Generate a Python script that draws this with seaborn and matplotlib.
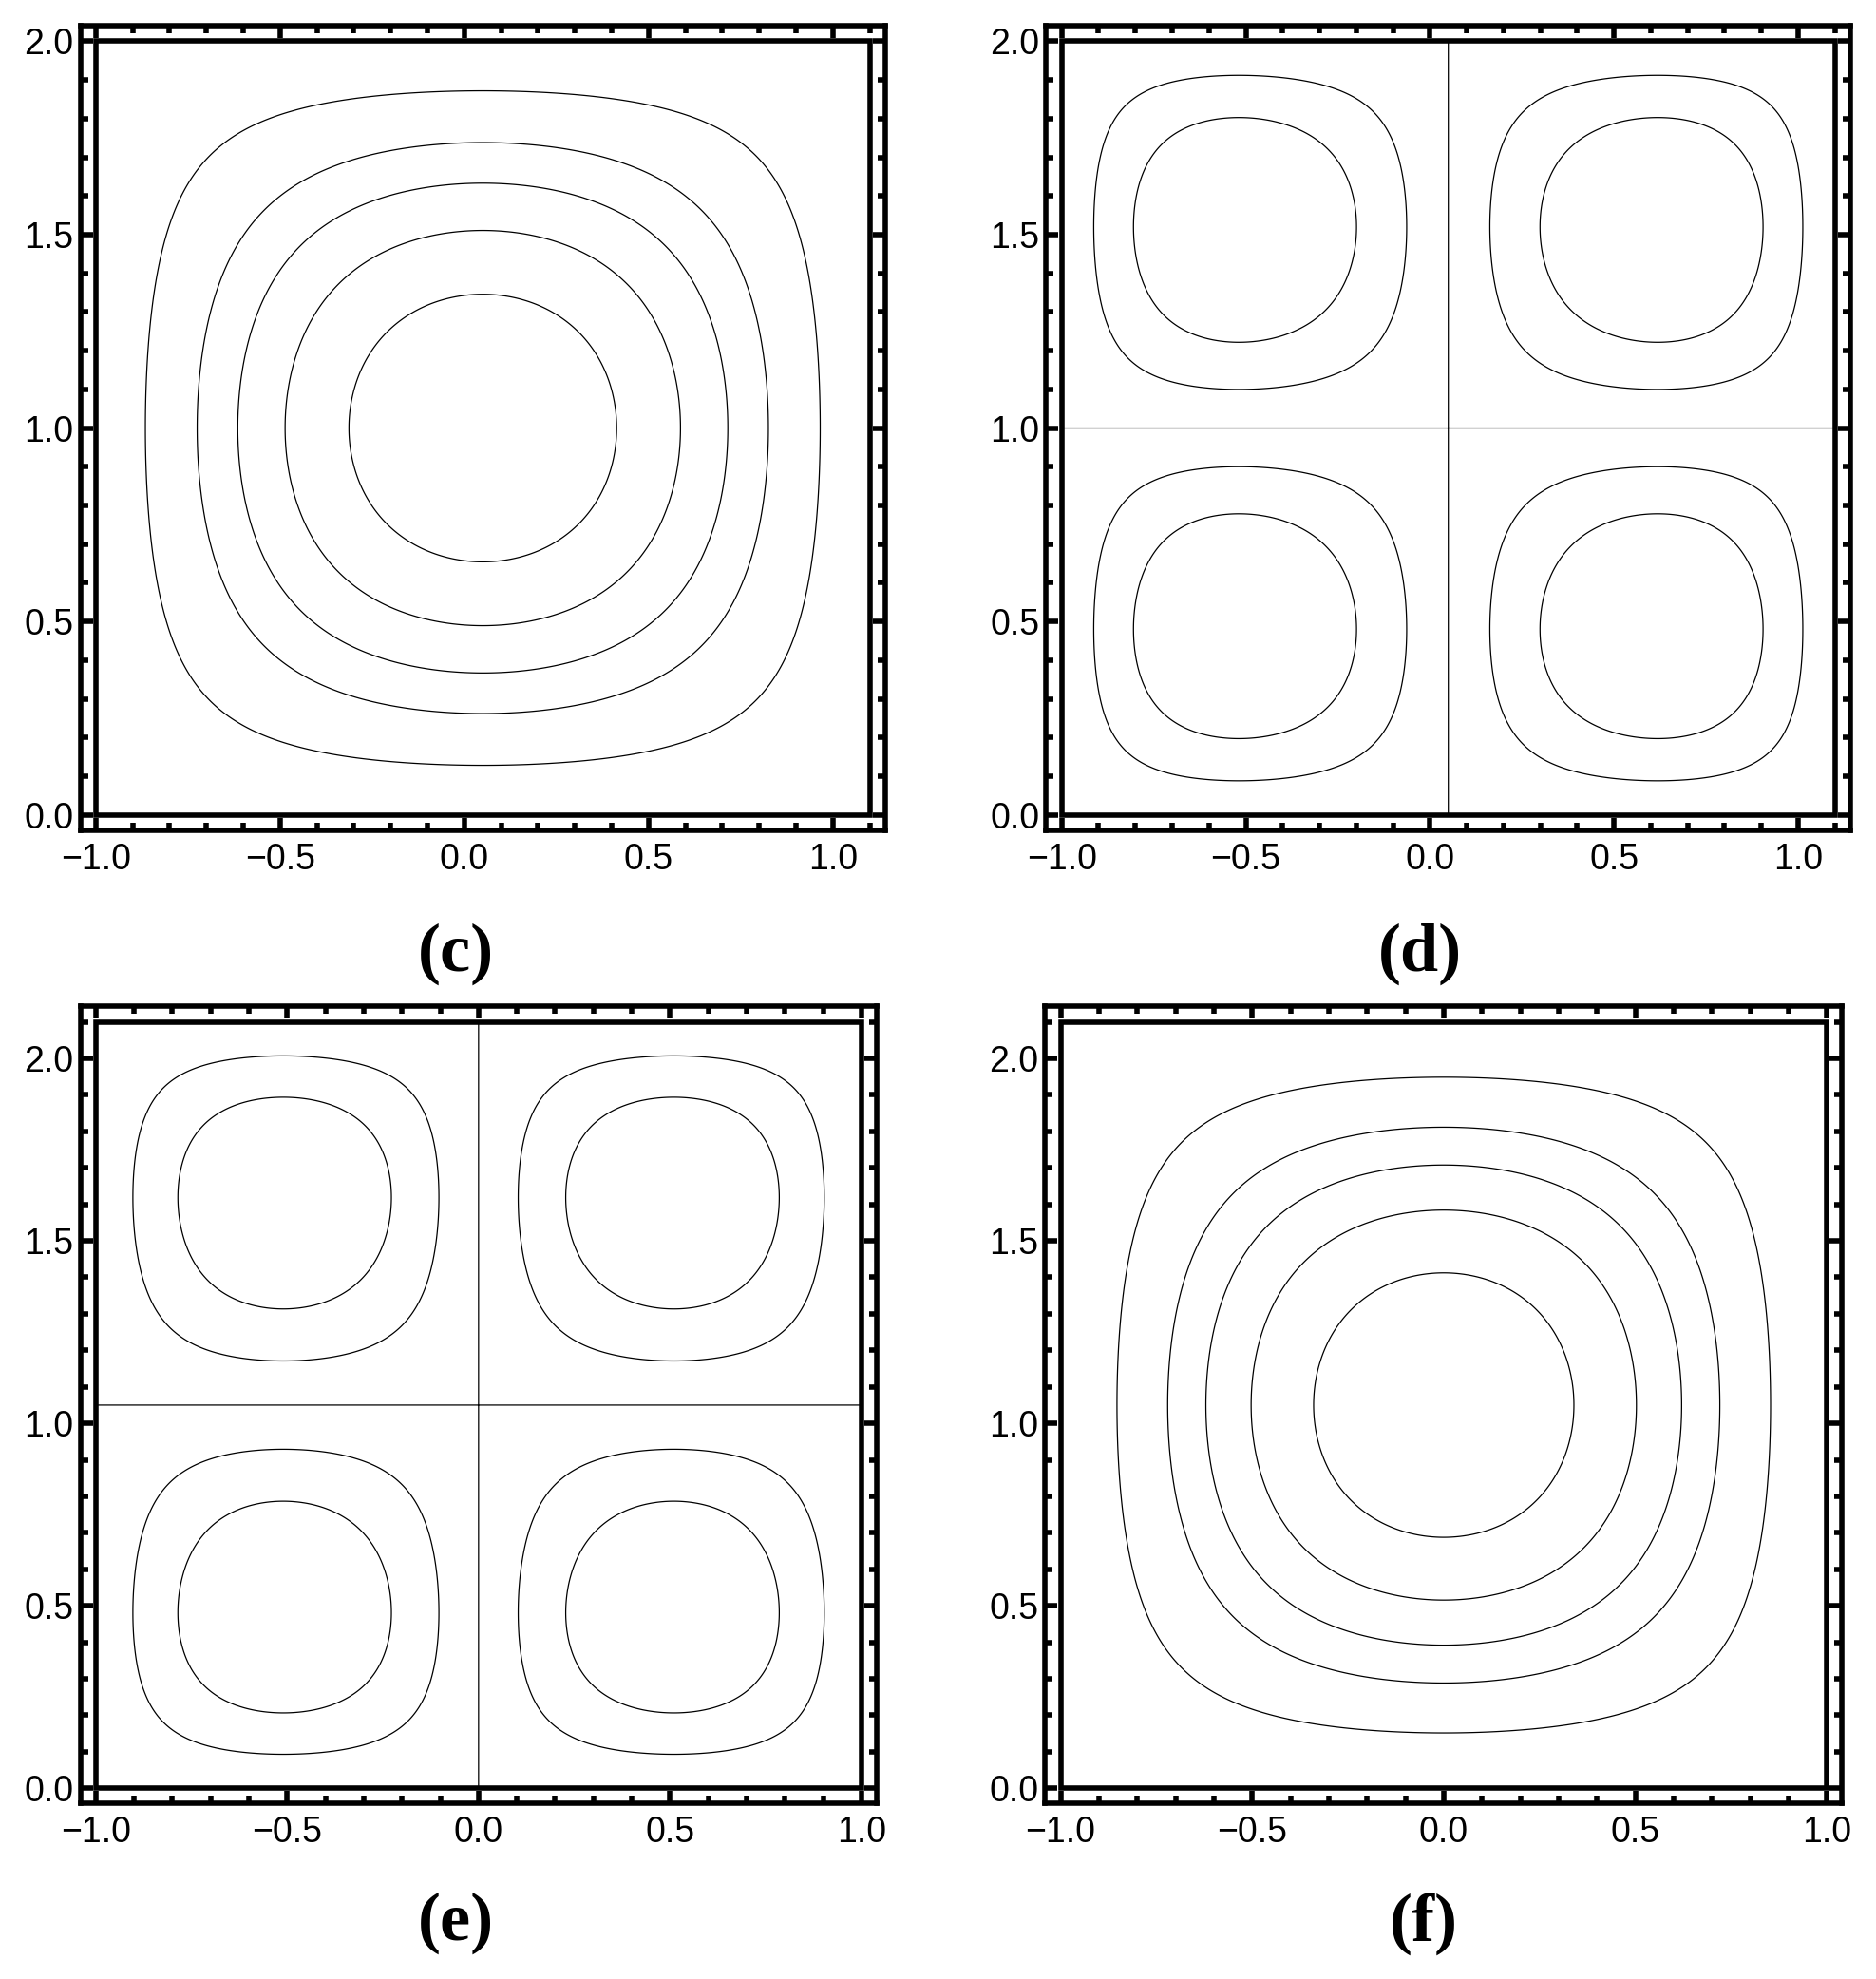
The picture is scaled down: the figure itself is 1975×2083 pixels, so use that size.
import numpy as np
import matplotlib
matplotlib.use("Agg")
import matplotlib.pyplot as plt
import seaborn as sns
from matplotlib.ticker import MultipleLocator, FuncFormatter
from matplotlib.patches import Rectangle

# ---------------------------
# Data
# ---------------------------

panel_names = ["(c)", "(d)", "(e)", "(f)"]

# domain of each panel  [x0, x1], [y0, y1]
x_ranges = [[-1.0, 1.1], [-1.0, 1.1], [-1.0, 1.0], [-1.0, 1.0]]
y_ranges = [[0.0, 2.0], [0.0, 2.0], [0.0, 2.1], [0.0, 2.1]]

# number of cells along x / y
modes = [1, 2, 2, 1]

# outward drift of the vortex cores (fraction of domain)
shift_x = [0.0, 0.021, 0.005, 0.0]
shift_y = [0.0, 0.010, 0.021, 0.003]

# contour levels (normalised stream function)
levels_c = [0.20, 0.40, 0.545, 0.695, 0.856]
levels_d = [-0.61, -0.29, 0.0, 0.29, 0.61]
levels_e = [-0.64, -0.31, 0.0, 0.31, 0.64]
levels_f = [0.229, 0.425, 0.561, 0.704, 0.861]
all_levels = [levels_c, levels_d, levels_e, levels_f]

x_ticks = [-1.0, -0.5, 0.0, 0.5, 1.0]
y_ticks = [0.0, 0.5, 1.0, 1.5, 2.0]

# ---------------------------
# Layout
# ---------------------------

sns.set_theme(style="white")
plt.rcParams['font.family'] = ['Liberation Sans', 'DejaVu Sans']

fig = plt.figure(figsize=(19.75, 20.83), dpi=100)

positions = [
    [0.0428, 0.5804, 0.4291, 0.4066],
    [0.5577, 0.5804, 0.4286, 0.4066],
    [0.0428, 0.0886, 0.4246, 0.4028],
    [0.5572, 0.0886, 0.4248, 0.4028],
]
label_xy = [(0.243, 0.518), (0.757, 0.518), (0.243, 0.028), (0.759, 0.028)]

fmt = FuncFormatter(lambda v, p: f"{v:.1f}".replace("-", "\u2212"))

N = 600

for i in range(4):
    ax = fig.add_axes(positions[i])
    x0, x1 = x_ranges[i]
    y0, y1 = y_ranges[i]
    Lx, Ly = x1 - x0, y1 - y0
    m = modes[i]

    xs = x0 + (np.arange(N) + 0.5) * Lx / N
    ys = y0 + (np.arange(N) + 0.5) * Ly / N
    X, Y = np.meshgrid(xs, ys)
    tx = (X - x0) / Lx
    ty = (Y - y0) / Ly
    tx = tx + shift_x[i] * np.sin(2 * np.pi * tx)
    ty = ty + shift_y[i] * np.sin(2 * np.pi * ty)
    psi = np.sin(m * np.pi * tx) * np.sin(m * np.pi * ty)

    ax.contour(X, Y, psi, levels=all_levels[i], colors="black",
               linewidths=0.9, linestyles="solid")

    ax.add_patch(Rectangle((x0, y0), Lx, Ly, fill=False, lw=4,
                           edgecolor="black", joinstyle="miter", zorder=5))

    ax.set_xlim(x0 - 0.02 * Lx, x1 + 0.02 * Lx)
    ax.set_ylim(y0 - 0.02 * Ly, y1 + 0.02 * Ly)

    ax.set_xticks(x_ticks)
    ax.set_yticks(y_ticks)
    ax.xaxis.set_major_formatter(fmt)
    ax.yaxis.set_major_formatter(fmt)
    ax.xaxis.set_minor_locator(MultipleLocator(0.1))
    ax.yaxis.set_minor_locator(MultipleLocator(0.1))

    ax.tick_params(which="both", direction="in", top=True, right=True,
                   bottom=True, left=True, color="black", width=4)
    ax.tick_params(which="major", length=9.5, labelsize=27, labelcolor="black")
    ax.tick_params(axis="x", which="major", pad=9)
    ax.tick_params(axis="y", which="major", pad=5)
    ax.tick_params(which="minor", length=5.5)

    for s in ax.spines.values():
        s.set_visible(True)
        s.set_linewidth(4)
        s.set_color("black")
        s.set_capstyle("projecting")

    ax.set_facecolor("white")
    ax.grid(False)

    fig.text(label_xy[i][0], label_xy[i][1], panel_names[i], ha="center",
             va="center", fontsize=52, fontweight="bold", color="black",
             family=["Liberation Serif", "DejaVu Serif"])

fig.savefig("out.png", dpi=100, facecolor="white")
